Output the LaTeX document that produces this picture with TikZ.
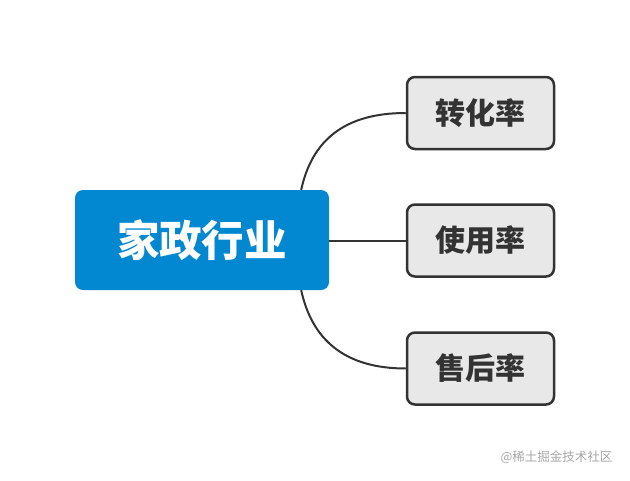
\documentclass[tikz,border=0pt]{standalone}
\usepackage{fontspec}
\newfontfamily\cjk{Noto Sans CJK SC}
\definecolor{rootblue}{HTML}{0288D1}
\definecolor{leafgray}{HTML}{E8E8E8}
\definecolor{inkgray}{HTML}{333333}
\tikzset{
  rootbox/.style={fill=rootblue, rounded corners=8pt, minimum width=254pt, minimum height=100pt, inner sep=0pt, text=white, font=\cjk\bfseries\fontsize{42.5}{42.5}\selectfont},
  leafbox/.style={draw=inkgray, fill=leafgray, line width=2.5pt, rounded corners=8pt, minimum width=147pt, minimum height=72pt, inner sep=0pt, text=inkgray, font=\cjk\bfseries\fontsize{30}{30}\selectfont},
  branch/.style={draw=inkgray, line width=2pt}
}
\begin{document}
\begin{tikzpicture}[x=1pt,y=-1pt]
\useasboundingbox (0,0) rectangle (630,480);

\node[rootbox] (root) at (202,240) {家政行业};

\node[leafbox] (conv) at (480.5,113) {转化率};
\node[leafbox] (usage) at (480.5,240.5) {使用率};
\node[leafbox] (after) at (480.5,368.5) {售后率};

\coordinate (rtop) at ([xshift=-28pt]root.north east);
\coordinate (rbot) at ([xshift=-28pt]root.south east);

\draw[branch] (rtop) .. controls (312,140) and (345,113) .. (conv.west);
\draw[branch] (root.east |- usage.west) -- (usage.west);
\draw[branch] (rbot) .. controls (312,340) and (345,368.5) .. (after.west);

% watermark
\node[text=black!35, font=\cjk\fontsize{12.5}{12.5}\selectfont, anchor=east] (mark) at (616,457) {@稀土掘金技术社区};
\end{tikzpicture}
\end{document}
